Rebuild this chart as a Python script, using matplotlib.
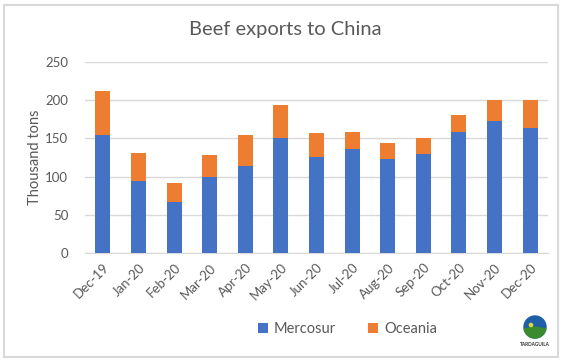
import matplotlib.pyplot as plt
from matplotlib.patches import Rectangle, Circle, Wedge

months = ['Dec-19', 'Jan-20', 'Feb-20', 'Mar-20', 'Apr-20', 'May-20', 'Jun-20',
          'Jul-20', 'Aug-20', 'Sep-20', 'Oct-20', 'Nov-20', 'Dec-20']
mercosur = [155, 94, 67, 99, 114, 151, 126, 136, 123, 130, 159, 173, 164]
oceania = [57, 37, 24, 29, 40, 43, 31, 23, 21, 21, 21, 27, 36]

plt.rcParams['font.family'] = ['Lato', 'DejaVu Sans']
grey = '#595959'

fig = plt.figure(figsize=(5.68, 3.63), dpi=100)
fig.patches.append(Rectangle((4 / 568, 6 / 363), 554 / 568, 352 / 363, transform=fig.transFigure,
                             fill=False, edgecolor='#d9d9d9', linewidth=1.5))

ax = fig.add_axes([85 / 568, 1 - 253 / 363, 463 / 568, 191 / 363])
x = range(len(months))
ax.bar(x, mercosur, width=0.42, color='#4472C4', label='Mercosur', zorder=3)
ax.bar(x, oceania, width=0.42, bottom=mercosur, color='#ED7D31', label='Oceania', zorder=3)

ax.set_xlim(-0.5, len(months) - 0.5)
ax.set_ylim(0, 250)
ax.set_yticks(range(0, 251, 50))
ax.yaxis.grid(True, color='#d9d9d9', linewidth=1, zorder=0)
for s in ['top', 'right', 'left']:
    ax.spines[s].set_visible(False)
ax.spines['bottom'].set_color('#d9d9d9')
ax.tick_params(axis='both', length=0, colors=grey, labelsize=9.5)
ax.tick_params(axis='y', pad=12)
ax.set_xticks(list(x))
ax.set_xticklabels(months, rotation=45, ha='right', rotation_mode='anchor')
ax.tick_params(axis='x', pad=6)
ax.set_ylabel('Thousand tons', color=grey, fontsize=10.5, labelpad=2)

fig.text(0.503, 1 - 30 / 363, 'Beef exports to China', ha='center', va='center',
         fontsize=14.5, color=grey)

fig.legend(loc='center', bbox_to_anchor=(0.612, 1 - 329 / 363), ncol=2, frameon=False,
           fontsize=10.5, labelcolor=grey, handlelength=0.7, handleheight=0.7,
           handletextpad=0.4, columnspacing=2.2)

# small logo bottom right
lax = fig.add_axes([518 / 568, 1 - 352 / 363, 34 / 568, 40 / 363])
lax.set_xlim(0, 34)
lax.set_ylim(0, 40)
lax.set_aspect('equal')
lax.axis('off')
lax.add_patch(Circle((17, 25), 11, color='#1f5fa8'))
lax.add_patch(Wedge((17, 25), 11, 190, 350, color='#3a8a2e'))
lax.add_patch(Circle((13, 27), 1.6, color='#e0d63a'))
lax.text(17, 8, 'TARDAGUILA', ha='center', va='center', fontsize=3.4,
         fontweight='bold', color='#333333')

fig.savefig('out.png')
